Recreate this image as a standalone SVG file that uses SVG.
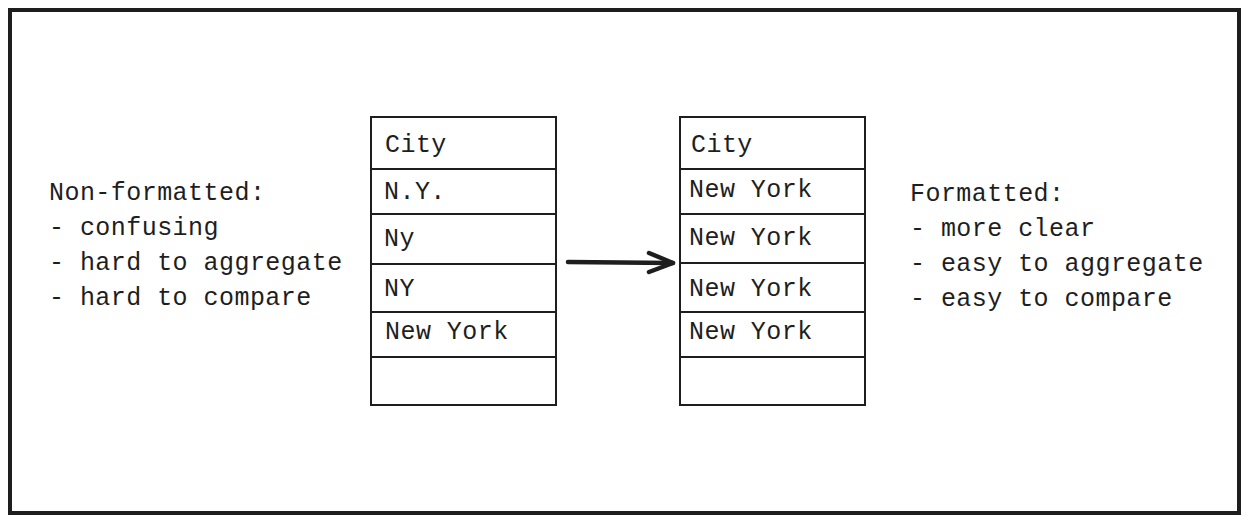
<svg xmlns="http://www.w3.org/2000/svg" width="1249" height="522" viewBox="0 0 1249 522">
<style>
.t{font-family:"Liberation Mono","DejaVu Sans Mono",monospace;font-size:25px;letter-spacing:0.45px;fill:#1e1e1e}
.b{fill:none;stroke:#1e1e1e;stroke-width:2}
.c{fill:none;stroke:#1e1e1e;stroke-width:4.5;stroke-linecap:round;stroke-linejoin:round}
</style>
<rect width="1249" height="522" fill="#ffffff"/>
<g id="frame"><rect x="10" y="10" width="1229" height="503" fill="none" stroke="#1e1e1e" stroke-width="4"/></g>
<g id="left-text">
<text class="t" x="49" y="200">Non-formatted:</text>
<text class="t" x="49" y="235">- confusing</text>
<text class="t" x="49" y="270">- hard to aggregate</text>
<text class="t" x="49" y="305">- hard to compare</text>
</g>
<g id="table-before">
<rect class="b" x="371" y="117" width="185" height="288"/>
<line class="b" x1="371" y1="169" x2="556" y2="169"/>
<line class="b" x1="371" y1="214" x2="556" y2="214"/>
<line class="b" x1="371" y1="264" x2="556" y2="264"/>
<line class="b" x1="371" y1="312" x2="556" y2="312"/>
<line class="b" x1="371" y1="357" x2="556" y2="357"/>
<text class="t" x="385" y="152">City</text>
<text class="t" x="384" y="199">N.Y.</text>
<text class="t" x="384" y="246">Ny</text>
<text class="t" x="384" y="296">NY</text>
<text class="t" x="385" y="339">New York</text>
</g>
<g id="table-after">
<rect class="b" x="680" y="117" width="185" height="288"/>
<line class="b" x1="680" y1="169" x2="865" y2="169"/>
<line class="b" x1="680" y1="214" x2="865" y2="214"/>
<line class="b" x1="680" y1="263" x2="865" y2="263"/>
<line class="b" x1="680" y1="312" x2="865" y2="312"/>
<line class="b" x1="680" y1="357" x2="865" y2="357"/>
<text class="t" x="691" y="152">City</text>
<text class="t" x="689" y="197">New York</text>
<text class="t" x="689" y="245">New York</text>
<text class="t" x="689" y="296">New York</text>
<text class="t" x="689" y="339">New York</text>
</g>
<g id="right-text">
<text class="t" x="910" y="201">Formatted:</text>
<text class="t" x="910" y="236">- more clear</text>
<text class="t" x="910" y="271">- easy to aggregate</text>
<text class="t" x="910" y="306">- easy to compare</text>
</g>
<g id="connectors">
<path class="c" d="M568 262 L673 263"/>
<path class="c" d="M649 253 L673 263 L649 272"/>
</g>
</svg>
